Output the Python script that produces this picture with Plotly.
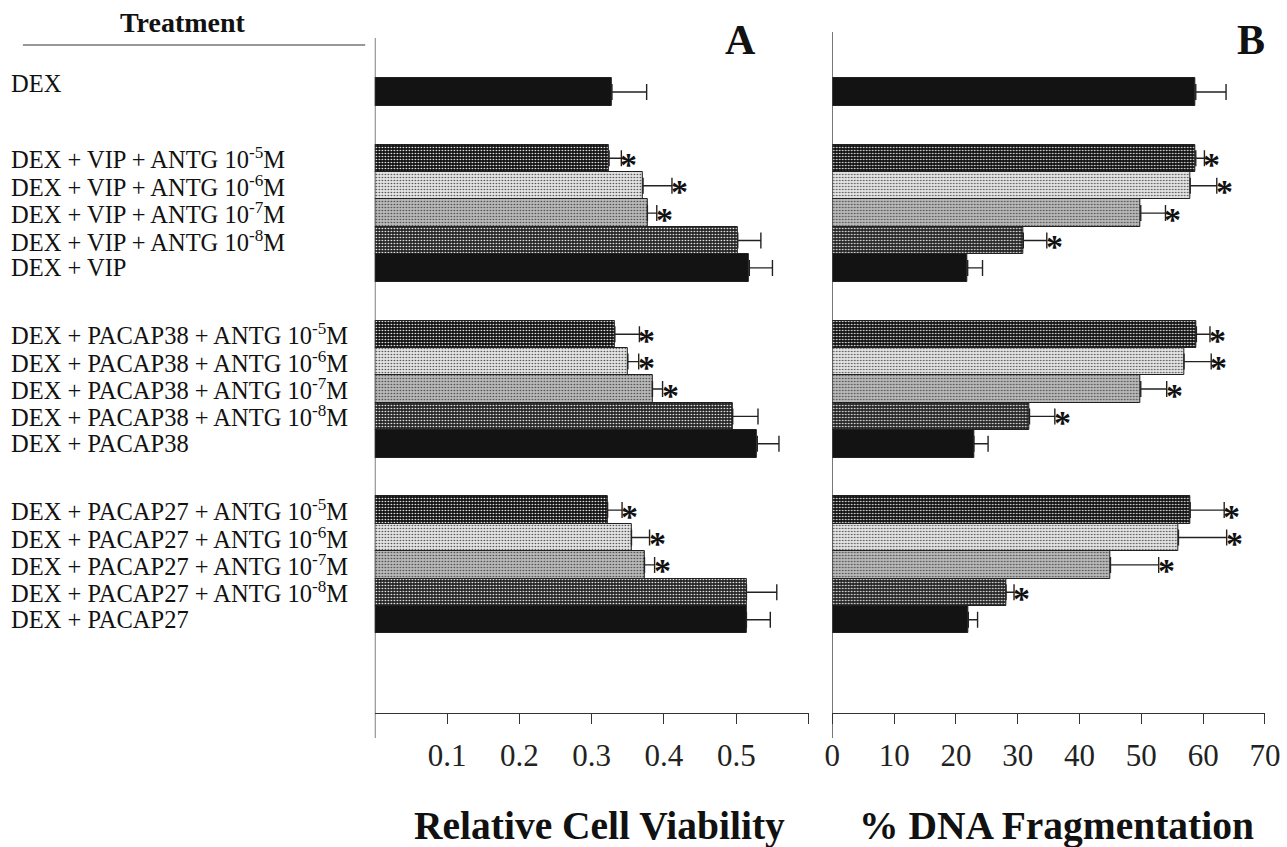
import plotly.graph_objects as go

# ---------------- data ----------------
treatments = [
    "DEX",
    "DEX + VIP + ANTG 10<sup>-5</sup>M",
    "DEX + VIP + ANTG 10<sup>-6</sup>M",
    "DEX + VIP + ANTG 10<sup>-7</sup>M",
    "DEX + VIP + ANTG 10<sup>-8</sup>M",
    "DEX + VIP",
    "DEX + PACAP38 + ANTG 10<sup>-5</sup>M",
    "DEX + PACAP38 + ANTG 10<sup>-6</sup>M",
    "DEX + PACAP38 + ANTG 10<sup>-7</sup>M",
    "DEX + PACAP38 + ANTG 10<sup>-8</sup>M",
    "DEX + PACAP38",
    "DEX + PACAP27 + ANTG 10<sup>-5</sup>M",
    "DEX + PACAP27 + ANTG 10<sup>-6</sup>M",
    "DEX + PACAP27 + ANTG 10<sup>-7</sup>M",
    "DEX + PACAP27 + ANTG 10<sup>-8</sup>M",
    "DEX + PACAP27",
]
group_sizes = [1, 5, 5, 5]
# bar style class: 0 = solid black, 1 = ANTG 10-5, 2 = 10-6, 3 = 10-7, 4 = 10-8
style_class = [0, 1, 2, 3, 4, 0, 1, 2, 3, 4, 0, 1, 2, 3, 4, 0]

viability = [0.328,
             0.324, 0.371, 0.377, 0.502, 0.518,
             0.332, 0.350, 0.384, 0.495, 0.529,
             0.322, 0.355, 0.373, 0.514, 0.514]
viability_err = [0.048,
                 0.017, 0.040, 0.013, 0.032, 0.032,
                 0.034, 0.015, 0.014, 0.035, 0.030,
                 0.020, 0.025, 0.014, 0.042, 0.033]
viability_sig = [0, 1, 1, 1, 0, 0, 1, 1, 1, 0, 0, 1, 1, 1, 0, 0]

fragmentation = [58.8,
                 58.8, 57.9, 49.9, 30.9, 21.9,
                 58.9, 56.9, 49.9, 31.9, 22.9,
                 57.9, 56.0, 45.0, 28.1, 22.0]
fragmentation_err = [4.9,
                     1.4, 4.3, 4.0, 3.8, 2.4,
                     2.2, 4.4, 4.2, 4.1, 2.3,
                     5.5, 7.8, 7.8, 1.3, 1.5]
fragmentation_sig = [0, 1, 1, 1, 1, 0, 1, 1, 1, 1, 0, 1, 1, 1, 1, 0]

viab_ticks = [0.1, 0.2, 0.3, 0.4, 0.5, 0.6]
viab_ticktext = ["0.1", "0.2", "0.3", "0.4", "0.5", ""]
frag_ticks = [0, 10, 20, 30, 40, 50, 60, 70]
frag_ticktext = ["0", "10", "20", "30", "40", "50", "60", "70"]

# ---------------- layout helpers ----------------
W, H = 1287, 847
GAP = 1.42
positions = []
start = 0.0
for g in group_sizes:
    for i in range(g):
        positions.append(start + i)
    start += g + GAP

base_cols = ["#131313", "#121212", "#e4e4e4", "#b8b8b8", "#262626"]
dot_cols = ["#131313", "#303030", "#8e8e8e", "#5c5c5c", "#6e6e6e"]
shapes_p = ["", ".", ".", ".", "."]
basec = [base_cols[c] for c in style_class]
dotc = [dot_cols[c] for c in style_class]
shp = [shapes_p[c] for c in style_class]

SERIF = "Liberation Serif, Times New Roman, serif"

# horizontal page mapping observed: x' = OX + SX * x ; compensate
SX, OX = 0.9805, 8.1


def px_x(p):
    return ((p - OX) / SX) / W


def px_y(p):
    return 1 - p / H


fig = go.Figure()

for vals, errs, xa in [(viability, viability_err, "x"),
                       (fragmentation, fragmentation_err, "x2")]:
    fig.add_trace(go.Bar(
        x=vals, y=positions, orientation="h", width=1.0,
        xaxis=xa, yaxis="y",
        marker=dict(color=basec,
                    line=dict(color="#202020", width=1),
                    pattern=dict(shape=shp, fgcolor=dotc, fgopacity=1,
                                 size=3, solidity=0.22, fillmode="overlay")),
        error_x=dict(type="data", array=errs, arrayminus=[0] * len(errs),
                     symmetric=False, color="#222222", thickness=1.4, width=8),
        showlegend=False, hoverinfo="skip",
    ))

annotations = []
# star markers
for vals, errs, sig, xr in [(viability, viability_err, viability_sig, "x"),
                            (fragmentation, fragmentation_err, fragmentation_sig, "x2")]:
    for v, e, s, p in zip(vals, errs, sig, positions):
        if s:
            annotations.append(dict(
                x=v + e, y=p, xref=xr, yref="y", text="<b>*</b>", showarrow=False,
                xanchor="left", yanchor="middle", xshift=-3, yshift=-6,
                font=dict(family=SERIF, size=34, color="#111111")))

# treatment labels
for i, (t, p) in enumerate(zip(treatments, positions)):
    annotations.append(dict(
        x=px_x(9.5), y=p, xref="paper", yref="y", text=t, showarrow=False,
        xanchor="left", yanchor="middle", yshift=(9 if i == 0 else 0),
        font=dict(family=SERIF, size=24.5, color="#111111")))

annotations += [
    dict(x=px_x(183), y=px_y(22), xref="paper", yref="paper",
         text="<b>Treatment</b>", showarrow=False, xanchor="center", yanchor="middle",
         font=dict(family=SERIF, size=28, color="#111111")),
    dict(x=px_x(740), y=px_y(40), xref="paper", yref="paper",
         text="<b>A</b>", showarrow=False, xanchor="center", yanchor="middle",
         font=dict(family=SERIF, size=42, color="#111111")),
    dict(x=px_x(1250), y=px_y(40), xref="paper", yref="paper",
         text="<b>B</b>", showarrow=False, xanchor="center", yanchor="middle",
         font=dict(family=SERIF, size=42, color="#111111")),
    dict(x=px_x(599), y=px_y(826), xref="paper", yref="paper",
         text="<b>Relative Cell Viability</b>", showarrow=False,
         xanchor="center", yanchor="middle",
         font=dict(family=SERIF, size=39.5, color="#111111")),
    dict(x=px_x(1056), y=px_y(826), xref="paper", yref="paper",
         text="<b>% DNA Fragmentation</b>", showarrow=False,
         xanchor="center", yanchor="middle",
         font=dict(family=SERIF, size=39.5, color="#111111")),
]

shapes = [
    dict(type="line", xref="paper", yref="paper",
         x0=px_x(23), x1=px_x(365), y0=px_y(45), y1=px_y(45),
         line=dict(color="#333333", width=1)),
    dict(type="line", xref="x", yref="paper", x0=0, x1=0,
         y0=px_y(738), y1=px_y(38), line=dict(color="#333333", width=1.3)),
    dict(type="line", xref="x2", yref="paper", x0=0, x1=0,
         y0=px_y(738), y1=px_y(32), line=dict(color="#333333", width=1.3)),
]

row_px = 27.4
y_top = (38 - 92) / row_px
y_bot = (713 - 92) / row_px

axis_common = dict(showline=True, linecolor="#333333", linewidth=1.3,
                   ticks="outside", ticklen=10, tickwidth=1.3, tickcolor="#333333",
                   showgrid=False, zeroline=False, ticklabeloverflow="allow",
                   tickfont=dict(family=SERIF, size=31, color="#222222"),
                   ticklabelstandoff=5)

fig.update_layout(
    width=W, height=H, autosize=False,
    margin=dict(l=0, r=0, t=0, b=0, pad=0),
    paper_bgcolor="white", plot_bgcolor="white",
    bargap=0,
    xaxis=dict(domain=[px_x(374.6), px_x(808)], range=[0, 0.6],
               tickvals=viab_ticks, ticktext=viab_ticktext, anchor="y", **axis_common),
    xaxis2=dict(domain=[px_x(831.7), px_x(1264)], range=[0, 70],
                tickvals=frag_ticks, ticktext=frag_ticktext, anchor="y", **axis_common),
    yaxis=dict(domain=[px_y(713), px_y(38)], range=[y_bot, y_top],
               showticklabels=False, showgrid=False, zeroline=False,
               showline=False, ticks=""),
    annotations=annotations,
    shapes=shapes,
)

fig.write_html("out.html")
